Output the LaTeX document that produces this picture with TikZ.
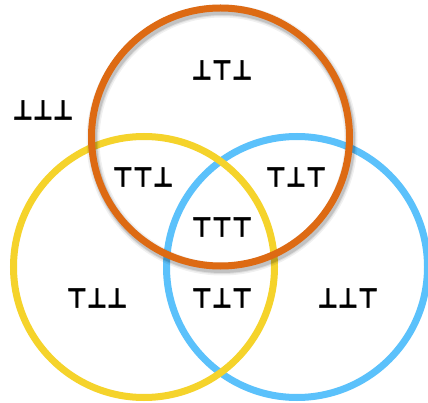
\documentclass[tikz,border=0pt]{standalone}
\usepackage{fontspec}
\newfontfamily\symfont[FakeBold=2]{DejaVu Sans}
\definecolor{vorange}{HTML}{DD6A13}
\definecolor{vyellow}{HTML}{F5D32B}
\definecolor{vblue}{HTML}{5BC1FB}
\begin{document}
\begin{tikzpicture}[x=1pt,y=-1pt,
  ring/.style={line width=7pt},
  lbl/.style={font=\symfont\bfseries\fontsize{22}{22}\selectfont, inner sep=0pt, yscale=1.25}]
\useasboundingbox[fill=white] (0,0) rectangle (428,403);
\draw[ring, vblue] (297,267) circle[radius=130.5];
\draw[ring, vyellow] (144,267) circle[radius=130.5];
\foreach \w/\o in {13/0.06,10/0.08,8/0.12}
  \draw[line width=\w pt, black, opacity=\o] (222,140) circle[radius=129];
\draw[ring, vorange] (220.5,137) circle[radius=129];
\node[lbl] (a) at (222,70) {⊥⊤⊥};
\node[lbl] (b) at (43,110) {⊥⊥⊥};
\node[lbl] (c) at (143,177) {⊤⊤⊥};
\node[lbl] (d) at (296,177) {⊤⊥⊤};
\node[lbl] (e) at (222,227) {⊤⊤⊤};
\node[lbl] (f) at (97,298) {⊤⊥⊥};
\node[lbl] (g) at (222,298) {⊤⊥⊤};
\node[lbl] (h) at (348,298) {⊥⊥⊤};
\end{tikzpicture}
\end{document}
